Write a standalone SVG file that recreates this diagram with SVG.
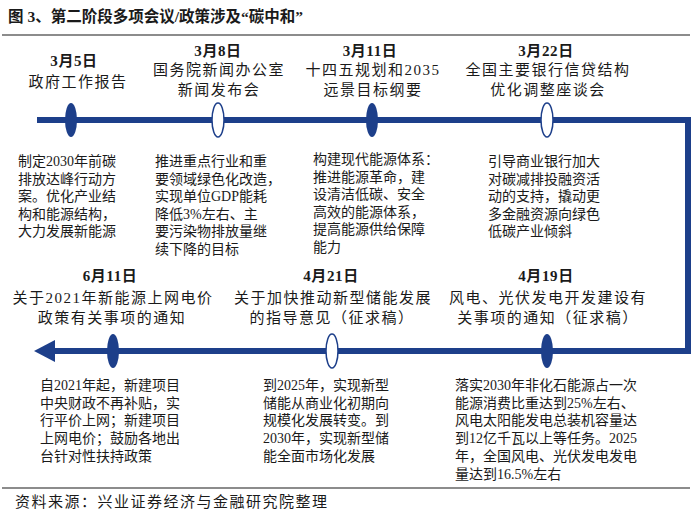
<svg xmlns="http://www.w3.org/2000/svg" width="700" height="515" viewBox="0 0 700 515">
<defs>
<style>
text{font-family:"Liberation Serif","Noto Sans CJK SC",serif;fill:#1a1a1a}
.title{font-size:15.5px;font-weight:bold}
.date{font-size:15px;font-weight:bold;text-anchor:middle;letter-spacing:0.6px}
.head{font-size:15px;text-anchor:middle;letter-spacing:1.5px}
.body{font-size:14px}
.src{font-size:15px;letter-spacing:1.5px}
.rule{stroke:#8c8c8c;stroke-width:2;fill:none}
.tl{stroke:#1d3f8a;stroke-width:6;fill:none}
.dotf{fill:#1d3f8a}
.doth{fill:#fff;stroke:#1d3f8a;stroke-width:1.5}
</style>
<marker id="arr" markerUnits="userSpaceOnUse" markerWidth="22" markerHeight="24" refX="0" refY="11" orient="auto">
<path d="M0,0 L21,11 L0,22 Z" fill="#1d3f8a"/>
</marker>
</defs>
<rect width="700" height="515" fill="#fff"/>
<text class="title" x="8" y="22">图 3、第二阶段多项会议/政策涉及“碳中和”</text>
<line class="rule" x1="2" y1="35" x2="690" y2="35"/>
<g id="connectors">
<path class="tl" d="M37 120 H688 V351 H55" marker-end="url(#arr)"/>
</g>
<g id="n-mar5">
<ellipse class="dotf" cx="71" cy="120" rx="6" ry="17"/>
<text class="date" x="74" y="66">3月5日</text>
<text class="head" x="78" y="87">政府工作报告</text>
<text class="body" x="18"><tspan x="18" y="166">制定2030年前碳</tspan><tspan x="18" y="183.6">排放达峰行动方</tspan><tspan x="18" y="201.2">案。优化产业结</tspan><tspan x="18" y="218.8">构和能源结构，</tspan><tspan x="18" y="236.4">大力发展新能源</tspan></text>
</g>
<g id="n-mar8">
<ellipse class="doth" cx="218" cy="120" rx="6" ry="17"/>
<text class="date" x="218" y="56">3月8日</text>
<text class="head" x="219" y="75">国务院新闻办公室</text>
<text class="head" x="219" y="95">新闻发布会</text>
<text class="body"><tspan x="155" y="166">推进重点行业和重</tspan><tspan x="155" y="183.6">要领域绿色化改造，</tspan><tspan x="155" y="201.2">实现单位GDP能耗</tspan><tspan x="155" y="218.8">降低3%左右、主</tspan><tspan x="155" y="236.4">要污染物排放量继</tspan><tspan x="155" y="254">续下降的目标</tspan></text>
</g>
<g id="n-mar11">
<ellipse class="dotf" cx="372" cy="120" rx="6" ry="17"/>
<text class="date" x="370" y="56">3月11日</text>
<text class="head" x="373" y="75">十四五规划和2035</text>
<text class="head" x="373" y="95">远景目标纲要</text>
<text class="body"><tspan x="313" y="164">构建现代能源体系：</tspan><tspan x="313" y="181.6">推进能源革命，建</tspan><tspan x="313" y="199.2">设清洁低碳、安全</tspan><tspan x="313" y="216.8">高效的能源体系，</tspan><tspan x="313" y="234.4">提高能源供给保障</tspan><tspan x="313" y="252">能力</tspan></text>
</g>
<g id="n-mar22">
<ellipse class="doth" cx="547" cy="120" rx="6" ry="17"/>
<text class="date" x="546" y="56">3月22日</text>
<text class="head" x="548" y="75">全国主要银行信贷结构</text>
<text class="head" x="548" y="95">优化调整座谈会</text>
<text class="body"><tspan x="488" y="166">引导商业银行加大</tspan><tspan x="488" y="183.6">对碳减排投融资活</tspan><tspan x="488" y="201.2">动的支持，撬动更</tspan><tspan x="488" y="218.8">多金融资源向绿色</tspan><tspan x="488" y="236.4">低碳产业倾斜</tspan></text>
</g>
<g id="n-apr19">
<ellipse class="dotf" cx="547" cy="351" rx="6" ry="17"/>
<text class="date" x="546" y="281">4月19日</text>
<text class="head" x="548" y="303">风电、光伏发电开发建设有</text>
<text class="head" x="548" y="323">关事项的通知（征求稿）</text>
<text class="body"><tspan x="455" y="390">落实2030年非化石能源占一次</tspan><tspan x="455" y="407.7">能源消费比重达到25%左右、</tspan><tspan x="455" y="425.4">风电太阳能发电总装机容量达</tspan><tspan x="455" y="443.1">到12亿千瓦以上等任务。2025</tspan><tspan x="455" y="460.8">年，全国风电、光伏发电发电</tspan><tspan x="455" y="478.5">量达到16.5%左右</tspan></text>
</g>
<g id="n-apr21">
<ellipse class="doth" cx="332" cy="351" rx="6" ry="17"/>
<text class="date" x="331" y="281">4月21日</text>
<text class="head" x="333" y="303">关于加快推动新型储能发展</text>
<text class="head" x="332" y="323">的指导意见（征求稿）</text>
<text class="body"><tspan x="263" y="390">到2025年，实现新型</tspan><tspan x="263" y="407.7">储能从商业化初期向</tspan><tspan x="263" y="425.4">规模化发展转变。到</tspan><tspan x="263" y="443.1">2030年，实现新型储</tspan><tspan x="263" y="460.8">能全面市场化发展</tspan></text>
</g>
<g id="n-jun11">
<ellipse class="dotf" cx="113" cy="351" rx="6" ry="17"/>
<text class="date" x="110" y="281">6月11日</text>
<text class="head" x="113" y="303">关于2021年新能源上网电价</text>
<text class="head" x="112" y="323">政策有关事项的通知</text>
<text class="body"><tspan x="40" y="390">自2021年起，新建项目</tspan><tspan x="40" y="407.7">中央财政不再补贴，实</tspan><tspan x="40" y="425.4">行平价上网；新建项目</tspan><tspan x="40" y="443.1">上网电价；鼓励各地出</tspan><tspan x="40" y="460.8">台针对性扶持政策</tspan></text>
</g>
<line class="rule" x1="2" y1="488" x2="690" y2="488"/>
<text class="src" x="15" y="507">资料来源：兴业证券经济与金融研究院整理</text>
</svg>
